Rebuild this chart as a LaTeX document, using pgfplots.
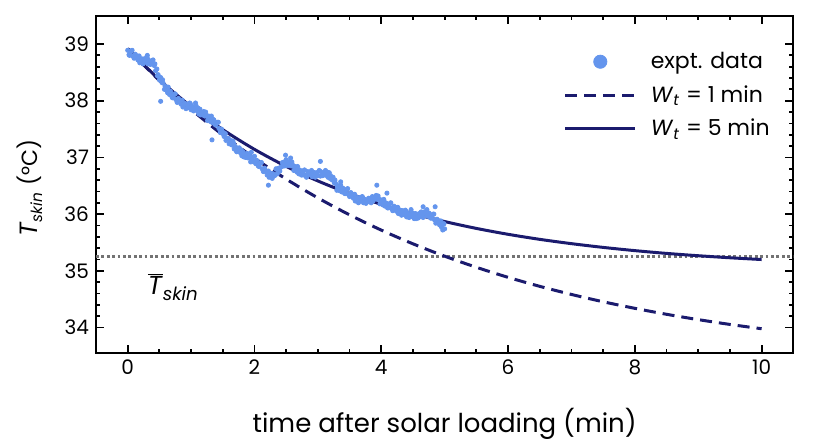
\documentclass[border=0pt]{standalone}
\usepackage{fontspec}
\setmainfont{Poppins}
\usepackage{pgfplots}
\usepackage{pgfplotstable}
\pgfplotsset{compat=1.18}
\definecolor{navy}{HTML}{1B1B6E}
\definecolor{cfb}{HTML}{6495ED}

\pgfplotstableread{
t T
0.00 38.89
0.02 38.81
0.04 38.85
0.06 38.88
0.08 38.79
0.10 38.75
0.12 38.82
0.14 38.77
0.16 38.72
0.18 38.79
0.20 38.71
0.22 38.74
0.24 38.65
0.26 38.74
0.28 38.68
0.30 38.77
0.32 38.65
0.34 38.71
0.36 38.64
0.38 38.68
0.40 38.72
0.42 38.62
0.44 38.53
0.46 38.56
0.48 38.46
0.50 38.37
0.52 38.41
0.54 38.32
0.56 38.31
0.58 38.20
0.60 38.25
0.62 38.18
0.64 38.24
0.66 38.11
0.68 38.15
0.70 38.06
0.72 38.09
0.74 38.12
0.76 38.02
0.78 37.97
0.80 38.04
0.82 37.99
0.84 37.94
0.86 38.01
0.88 37.93
0.90 37.95
0.92 37.86
0.94 37.94
0.96 37.88
0.98 37.96
1.00 37.84
1.02 37.90
1.04 37.82
1.06 37.87
1.08 37.91
1.10 37.82
1.12 37.77
1.14 37.85
1.16 37.79
1.18 37.75
1.20 37.81
1.22 37.73
1.24 37.75
1.26 37.65
1.28 37.73
1.30 37.66
1.32 37.73
1.34 37.61
1.36 37.66
1.38 37.58
1.40 37.61
1.42 37.62
1.44 37.51
1.46 37.44
1.48 37.50
1.50 37.42
1.52 37.37
1.54 37.42
1.56 37.34
1.58 37.34
1.60 37.24
1.62 37.30
1.64 37.22
1.66 37.29
1.68 37.15
1.70 37.19
1.72 37.10
1.74 37.14
1.76 37.17
1.78 37.08
1.80 37.03
1.82 37.10
1.84 37.05
1.86 37.00
1.88 37.07
1.90 36.99
1.92 37.01
1.94 36.92
1.96 37.00
1.98 36.94
2.00 37.02
2.02 36.89
2.04 36.94
2.06 36.85
2.08 36.88
2.10 36.91
2.12 36.80
2.14 36.75
2.16 36.81
2.18 36.75
2.20 36.69
2.22 36.76
2.24 36.69
2.26 36.72
2.28 36.63
2.30 36.71
2.32 36.68
2.34 36.80
2.36 36.71
2.38 36.81
2.40 36.76
2.42 36.83
2.44 36.91
2.46 36.85
2.48 36.85
2.50 36.96
2.52 36.91
2.54 36.86
2.56 36.93
2.58 36.85
2.60 36.87
2.62 36.77
2.64 36.84
2.66 36.77
2.68 36.84
2.70 36.71
2.72 36.77
2.74 36.69
2.76 36.73
2.78 36.77
2.80 36.68
2.82 36.65
2.84 36.75
2.86 36.71
2.88 36.69
2.90 36.77
2.92 36.71
2.94 36.73
2.96 36.65
2.98 36.73
3.00 36.68
3.02 36.77
3.04 36.67
3.06 36.74
3.08 36.68
3.10 36.73
3.12 36.77
3.14 36.68
3.16 36.65
3.18 36.73
3.20 36.68
3.22 36.61
3.24 36.65
3.26 36.55
3.28 36.54
3.30 36.42
3.32 36.50
3.34 36.44
3.36 36.51
3.38 36.39
3.40 36.45
3.42 36.37
3.44 36.41
3.46 36.44
3.48 36.35
3.50 36.31
3.52 36.38
3.54 36.33
3.56 36.28
3.58 36.35
3.60 36.27
3.62 36.29
3.64 36.20
3.66 36.29
3.68 36.23
3.70 36.31
3.72 36.20
3.74 36.26
3.76 36.19
3.78 36.23
3.80 36.28
3.82 36.22
3.84 36.20
3.86 36.31
3.88 36.28
3.90 36.27
3.92 36.33
3.94 36.26
3.96 36.27
3.98 36.18
4.00 36.25
4.02 36.19
4.04 36.26
4.06 36.14
4.08 36.19
4.10 36.11
4.12 36.15
4.14 36.19
4.16 36.10
4.18 36.06
4.20 36.14
4.22 36.09
4.24 36.05
4.26 36.12
4.28 36.05
4.30 36.07
4.32 35.98
4.34 36.06
4.36 35.99
4.38 36.07
4.40 35.95
4.42 36.02
4.44 35.94
4.46 35.99
4.48 36.03
4.50 35.95
4.52 35.92
4.54 36.01
4.56 35.96
4.58 35.93
4.60 36.01
4.62 35.96
4.64 36.00
4.66 35.94
4.68 36.04
4.70 36.00
4.72 36.08
4.74 35.96
4.76 36.01
4.78 35.93
4.80 35.97
4.82 36.00
4.84 35.90
4.86 35.84
4.88 35.91
4.90 35.85
4.92 35.81
4.94 35.88
4.96 35.81
4.98 35.83
5.00 35.74
0.52 37.99
1.33 37.31
2.22 36.51
3.04 36.93
3.93 36.51
4.09 36.37
4.66 36.13
4.85 36.13
2.49 37.04
0.31 38.80
1.07 37.96
1.95 37.09
2.57 36.99
3.36 36.57
4.47 36.08
4.97 35.72
0.03 38.80
0.07 38.89
0.11 38.77
0.15 38.79
0.19 38.67
0.23 38.73
0.27 38.70
0.31 38.75
0.35 38.65
0.39 38.66
0.43 38.65
0.47 38.44
0.51 38.36
0.55 38.37
0.59 38.25
0.63 38.14
0.67 38.17
0.71 38.05
0.75 38.12
0.79 37.99
0.83 38.01
0.87 37.89
0.91 37.95
0.95 37.90
0.99 37.94
1.03 37.84
1.07 37.85
1.11 37.87
1.15 37.75
1.19 37.75
1.23 37.80
1.27 37.71
1.31 37.63
1.35 37.67
1.39 37.57
1.43 37.62
1.47 37.45
1.51 37.44
1.55 37.30
1.59 37.33
1.63 37.25
1.67 37.25
1.71 37.12
1.75 37.12
1.79 37.13
1.83 37.01
1.87 37.00
1.91 37.06
1.95 36.99
1.99 36.92
2.03 36.95
2.07 36.84
2.11 36.91
2.15 36.77
2.19 36.76
2.23 36.65
2.27 36.71
2.31 36.68
2.35 36.79
2.39 36.76
2.43 36.84
2.47 36.92
2.51 36.86
2.55 36.87
2.59 36.92
2.63 36.83
2.67 36.74
2.71 36.78
2.75 36.69
2.79 36.78
2.83 36.69
2.87 36.74
2.91 36.66
2.95 36.73
2.99 36.69
3.03 36.76
3.07 36.68
3.11 36.72
3.15 36.74
3.19 36.63
3.23 36.60
3.27 36.60
3.31 36.48
3.35 36.41
3.39 36.46
3.43 36.36
3.47 36.45
3.51 36.33
3.55 36.35
3.59 36.23
3.63 36.29
3.67 36.24
3.71 36.29
3.75 36.20
3.79 36.22
3.83 36.28
3.87 36.23
3.91 36.27
3.95 36.32
3.99 36.24
4.03 36.16
4.07 36.20
4.11 36.11
4.15 36.20
4.19 36.09
4.23 36.12
4.27 36.01
4.31 36.06
4.35 36.01
4.39 36.05
4.43 35.95
4.47 35.98
4.51 36.01
4.55 35.92
4.59 35.94
4.63 36.04
4.67 36.01
4.71 35.97
4.75 36.02
4.79 35.93
4.83 36.00
4.87 35.86
4.91 35.88
4.95 35.77
4.99 35.83
}\exptdata

\begin{document}
\begin{tikzpicture}
\useasboundingbox (-48pt,-44pt) rectangle (367.5pt,176.5pt);
\begin{axis}[
  at={(0pt,0pt)}, anchor=south west,
  scale only axis, width=348.65pt, height=168.65pt,
  xmin=-0.5, xmax=10.5, ymin=33.55, ymax=39.5,
  xtick={0,2,...,10}, ytick={34,35,...,39},
  minor x tick num=3, minor y tick num=4,
  tick align=inside, tick pos=both,
  xticklabel pos=bottom, yticklabel pos=left,
  major tick length=4pt, minor tick length=2.2pt,
  every tick/.style={black, line width=0.9pt},
  axis line style={line width=1.1pt},
  tick label style={font=\fontsize{10}{12}\selectfont},
  /pgf/number format/assume math mode=true,
  xlabel={time after solar loading (min)},
  ylabel={{\fontsize{12.5}{15}\selectfont\textit{T}}\textsubscript{\textit{skin}} (°C)},
  xlabel style={font=\fontsize{13}{15}\selectfont, at={(axis description cs:0.5,0)}, anchor=center, yshift=-35.5pt},
  ylabel style={font=\fontsize{11}{13}\selectfont, at={(axis description cs:-0.095,0.488)}, anchor=center},
  legend style={at={(axis description cs:0.981,0.917)}, anchor=north east,
    draw=none, fill=none, font=\fontsize{11}{13}\selectfont, row sep=3pt,
    /tikz/every odd column/.append style={column sep=5pt}},
  legend cell align=left,
]
\addplot[black!55, line width=1.5pt, dash pattern=on 1.4pt off 1.3pt, forget plot]
  coordinates {(-0.5,35.26) (10.5,35.26)};

\addplot[only marks, mark=*, mark size=1.05pt, cfb, mark options={draw=cfb, fill=cfb},
  legend image code/.code={\fill[cfb] (17.5pt,0pt) circle (3.3pt);}]
  table[x=t, y=T] {\exptdata};
\addlegendentry{expt. data}

\addplot[navy, line width=1.5pt, dash pattern=on 6pt off 3.5pt, smooth,
  legend image code/.code={\draw[navy, line width=1.5pt, dash pattern=on 6pt off 3.5pt] (0pt,0pt) -- (35pt,0pt);}]
  coordinates {
  (0,38.918) (0.5,38.357) (1,37.851) (1.5,37.396) (2,36.987) (2.5,36.618)
  (3,36.286) (3.5,35.987) (4,35.718) (4.5,35.476) (5,35.258) (5.5,35.062)
  (6,34.885) (6.5,34.726) (7,34.583) (7.5,34.454) (8,34.338) (8.5,34.233)
  (9,34.139) (9.5,34.054) (10,33.978)};
\addlegendentry{\textit{W}\textsubscript{\textit{t}} = 1 min}

\addplot[navy, line width=1.5pt, smooth,
  legend image code/.code={\draw[navy, line width=1.5pt] (0pt,0pt) -- (35pt,0pt);}]
  coordinates {
  (0,38.919) (0.5,38.369) (1,37.897) (1.5,37.491) (2,37.142) (2.5,36.842)
  (3,36.585) (3.5,36.363) (4,36.173) (4.5,36.010) (5,35.869) (5.5,35.748)
  (6,35.644) (6.5,35.555) (7,35.479) (7.5,35.413) (8,35.356) (8.5,35.307)
  (9,35.266) (9.5,35.230) (10,35.199)};
\addlegendentry{\textit{W}\textsubscript{\textit{t}} = 5 min}

\node[font=\fontsize{13}{15}\selectfont] at (axis cs:0.72,34.72)
  {$\overline{\mbox{\textit{T}}}$\textsubscript{\textit{skin}}};
\end{axis}
\end{tikzpicture}
\end{document}
